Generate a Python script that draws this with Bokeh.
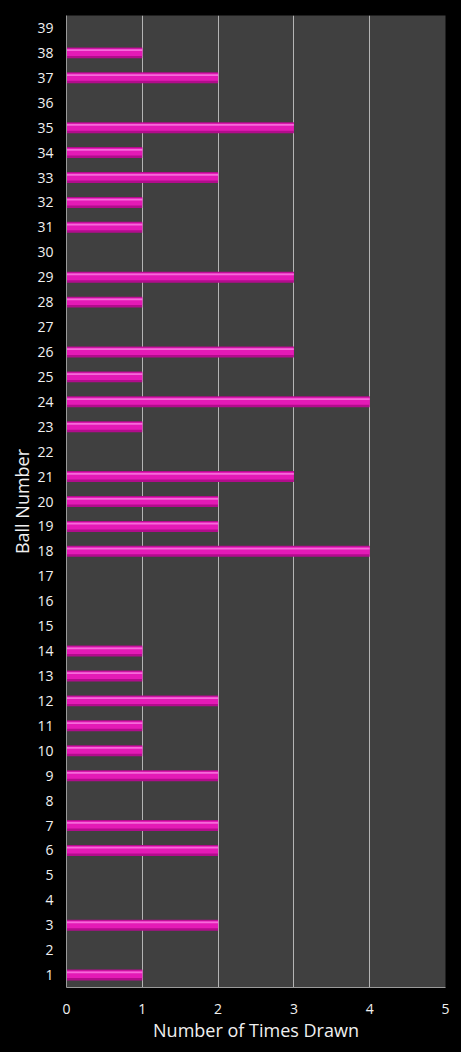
from bokeh.plotting import figure
from bokeh.models import ColumnDataSource, FixedTicker, Range1d
from bokeh.transform import dodge
from bokeh.embed import file_html
from bokeh.resources import INLINE

# Times each ball was drawn
balls = list(range(1, 40))
times_drawn = [1, 0, 2, 0, 0, 2, 2, 0, 2, 1,
               1, 2, 1, 1, 0, 0, 0, 4, 2, 2,
               3, 0, 1, 4, 1, 3, 0, 1, 3, 0,
               1, 1, 2, 1, 3, 0, 2, 1, 0]
x_ticks = [0, 1, 2, 3, 4, 5]

FONT = "Open Sans"
BAR_DARK = '#B20C8C'
BAR_MAIN = '#E41AB6'
BAR_LIGHT = '#F56AD9'

source = ColumnDataSource(data=dict(ball=balls, times=times_drawn))

p = figure(width=461, height=1052,
           x_range=Range1d(0, 5), y_range=Range1d(0.5, 39.5),
           output_backend="svg", toolbar_location=None,
           background_fill_color='#404040', border_fill_color='black',
           outline_line_color=None,
           min_border_left=66, min_border_right=16,
           min_border_top=15, min_border_bottom=65)

# Bars with a bit of shading to mimic the 3D look
p.hbar(y='ball', right='times', left=0, height=0.44, source=source,
       fill_color=BAR_DARK, line_color=None)
p.hbar(y=dodge('ball', 0.03), right='times', left=0, height=0.30, source=source,
       fill_color=BAR_MAIN, line_color=None)
p.hbar(y=dodge('ball', 0.11), right='times', left=0, height=0.07, source=source,
       fill_color=BAR_LIGHT, line_color=None)

# Axes
p.xaxis.ticker = FixedTicker(ticks=x_ticks)
p.yaxis.ticker = FixedTicker(ticks=balls)
p.xaxis.axis_label = "Number of Times Drawn"
p.yaxis.axis_label = "Ball Number"
for ax in (p.xaxis, p.yaxis):
    ax.axis_line_color = '#9a9a9a'
    ax.major_tick_line_color = None
    ax.minor_tick_line_color = None
    ax.major_label_text_color = '#f0f0f0'
    ax.major_label_text_font = FONT
    ax.major_label_text_font_size = '14px'
    ax.axis_label_text_color = '#f0f0f0'
    ax.axis_label_text_font = FONT
    ax.axis_label_text_font_style = 'normal'
    ax.axis_label_text_font_size = '18px'
p.xaxis.major_label_standoff = 10
p.xaxis.axis_label_standoff = 1
p.yaxis.major_label_standoff = 7
p.yaxis.axis_label_standoff = 0

p.xgrid.grid_line_color = '#b4b4b4'
p.xgrid.grid_line_width = 1
p.ygrid.grid_line_color = None

html = file_html(p, INLINE)
html = html.replace('</head>', '<style>html, body { background: black; }</style></head>', 1)
open("out.html", "w").write(html)
